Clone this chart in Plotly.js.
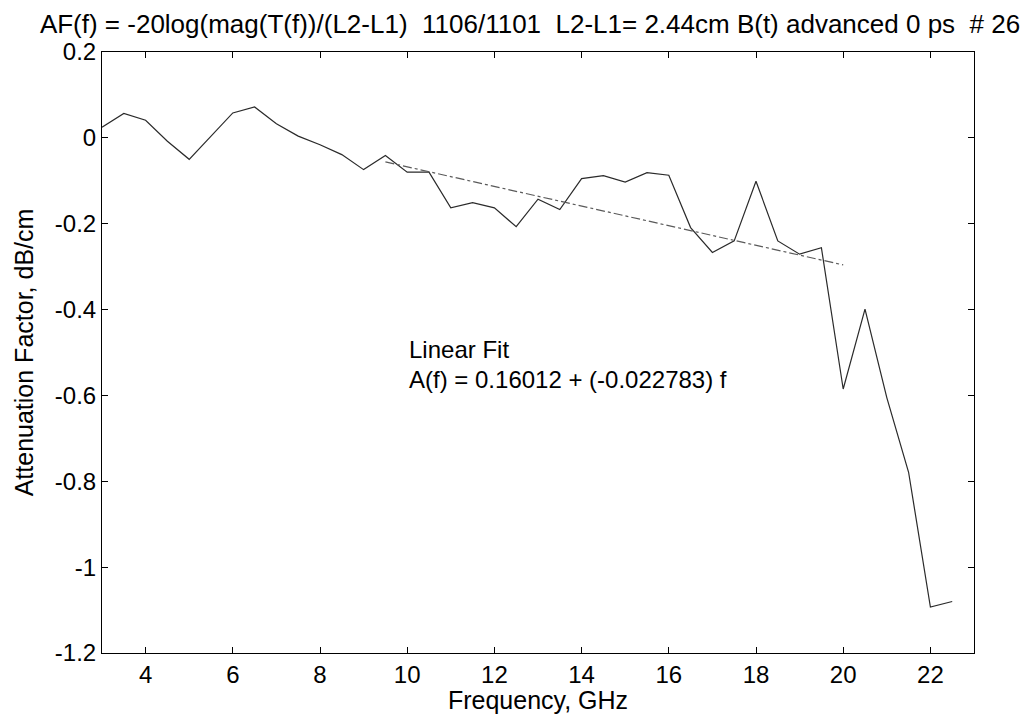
<!DOCTYPE html>
<html>
<head>
<meta charset="utf-8">
<script src="https://cdn.plot.ly/plotly-3.0.1.min.js"></script>
<style>html,body{margin:0;padding:0;background:#fff;}#chart{width:1026px;height:714px;}</style>
</head>
<body>
<div id="chart"></div>
<script>
// Frequency (GHz) and measured attenuation factor (dB/cm)
var freq = [3.0, 3.5, 4.0, 4.5, 5.0, 5.5, 6.0, 6.5, 7.0, 7.5, 8.0, 8.5, 9.0, 9.5, 10.0, 10.5, 11.0, 11.5, 12.0, 12.5,
            13.0, 13.5, 14.0, 14.5, 15.0, 15.5, 16.0, 16.5, 17.0, 17.5, 18.0, 18.5, 19.0, 19.5, 20.0, 20.5, 21.0, 21.5, 22.0, 22.5];
var atten = [0.025, 0.057, 0.041, -0.008, -0.050, 0.005, 0.058, 0.072, 0.033, 0.004, -0.016, -0.039, -0.074, -0.041, -0.080, -0.080, -0.163, -0.151, -0.163, -0.207,
             -0.143, -0.167, -0.095, -0.088, -0.103, -0.081, -0.087, -0.209, -0.267, -0.240, -0.101, -0.240, -0.271, -0.256, -0.585, -0.399, -0.605, -0.779, -1.093, -1.080];

// Linear fit line end points
var fitFreq = [9.5, 20.0];
var fitAtten = [-0.056, -0.296];

// Tick labels
var xTickVals = [4, 6, 8, 10, 12, 14, 16, 18, 20, 22];
var xTickText = ['4', '6', '8', '10', '12', '14', '16', '18', '20', '22'];
var yTickVals = [0.2, 0, -0.2, -0.4, -0.6, -0.8, -1, -1.2];
var yTickText = ['0.2', '0', '-0.2', '-0.4', '-0.6', '-0.8', '-1', '-1.2'];

var titleText = 'AF(f) = -20log(mag(T(f))/(L2-L1)\u00a0 1106/1101\u00a0 L2-L1= 2.44cm B(t) advanced 0 ps\u00a0 # 26';
var fitLabel1 = 'Linear Fit';
var fitLabel2 = 'A(f) = 0.16012 + (-0.022783) f';

var font = 'Arial, "Liberation Sans", Helvetica, sans-serif';

var traces = [
  {x: freq, y: atten, type: 'scatter', mode: 'lines',
   line: {color: '#2a2a2a', width: 1.2}, hoverinfo: 'x+y'},
  {x: fitFreq, y: fitAtten, type: 'scatter', mode: 'lines',
   line: {color: '#5a5a5a', width: 1.2, dash: 'dashdot'}, hoverinfo: 'x+y'}
];

var axisCommon = {
  showline: true, linecolor: '#000', linewidth: 1, mirror: 'allticks',
  ticks: 'inside', ticklen: 6, tickcolor: '#000', tickwidth: 1,
  showgrid: false, zeroline: false,
  tickfont: {family: font, size: 24, color: '#000'}
};

var layout = {
  width: 1026, height: 714,
  paper_bgcolor: '#fff', plot_bgcolor: '#fff',
  showlegend: false,
  margin: {l: 102, r: 52, t: 52, b: 61},
  title: {text: titleText, font: {family: font, size: 26, color: '#000'},
          xref: 'container', yref: 'container', x: 0.5166, y: 0.966, xanchor: 'center', yanchor: 'middle'},
  xaxis: Object.assign({}, axisCommon, {
    range: [3, 23], tickmode: 'array', tickvals: xTickVals, ticktext: xTickText,
    title: {text: 'Frequency, GHz', font: {family: font, size: 25, color: '#000'}, standoff: 2}
  }),
  yaxis: Object.assign({}, axisCommon, {
    range: [-1.2, 0.2], tickmode: 'array', tickvals: yTickVals, ticktext: yTickText,
    title: {text: 'Attenuation Factor, dB/cm', font: {family: font, size: 25, color: '#000'}, standoff: 14}
  }),
  annotations: [
    {x: 10, y: -0.492, xref: 'x', yref: 'y', text: fitLabel1, showarrow: false,
     xanchor: 'left', yanchor: 'middle', font: {family: font, size: 24, color: '#000'}},
    {x: 10, y: -0.562, xref: 'x', yref: 'y', text: fitLabel2, showarrow: false,
     xanchor: 'left', yanchor: 'middle', font: {family: font, size: 24, color: '#000'}}
  ]
};

Plotly.newPlot('chart', traces, layout, {displayModeBar: false, staticPlot: true});
</script>
</body>
</html>
